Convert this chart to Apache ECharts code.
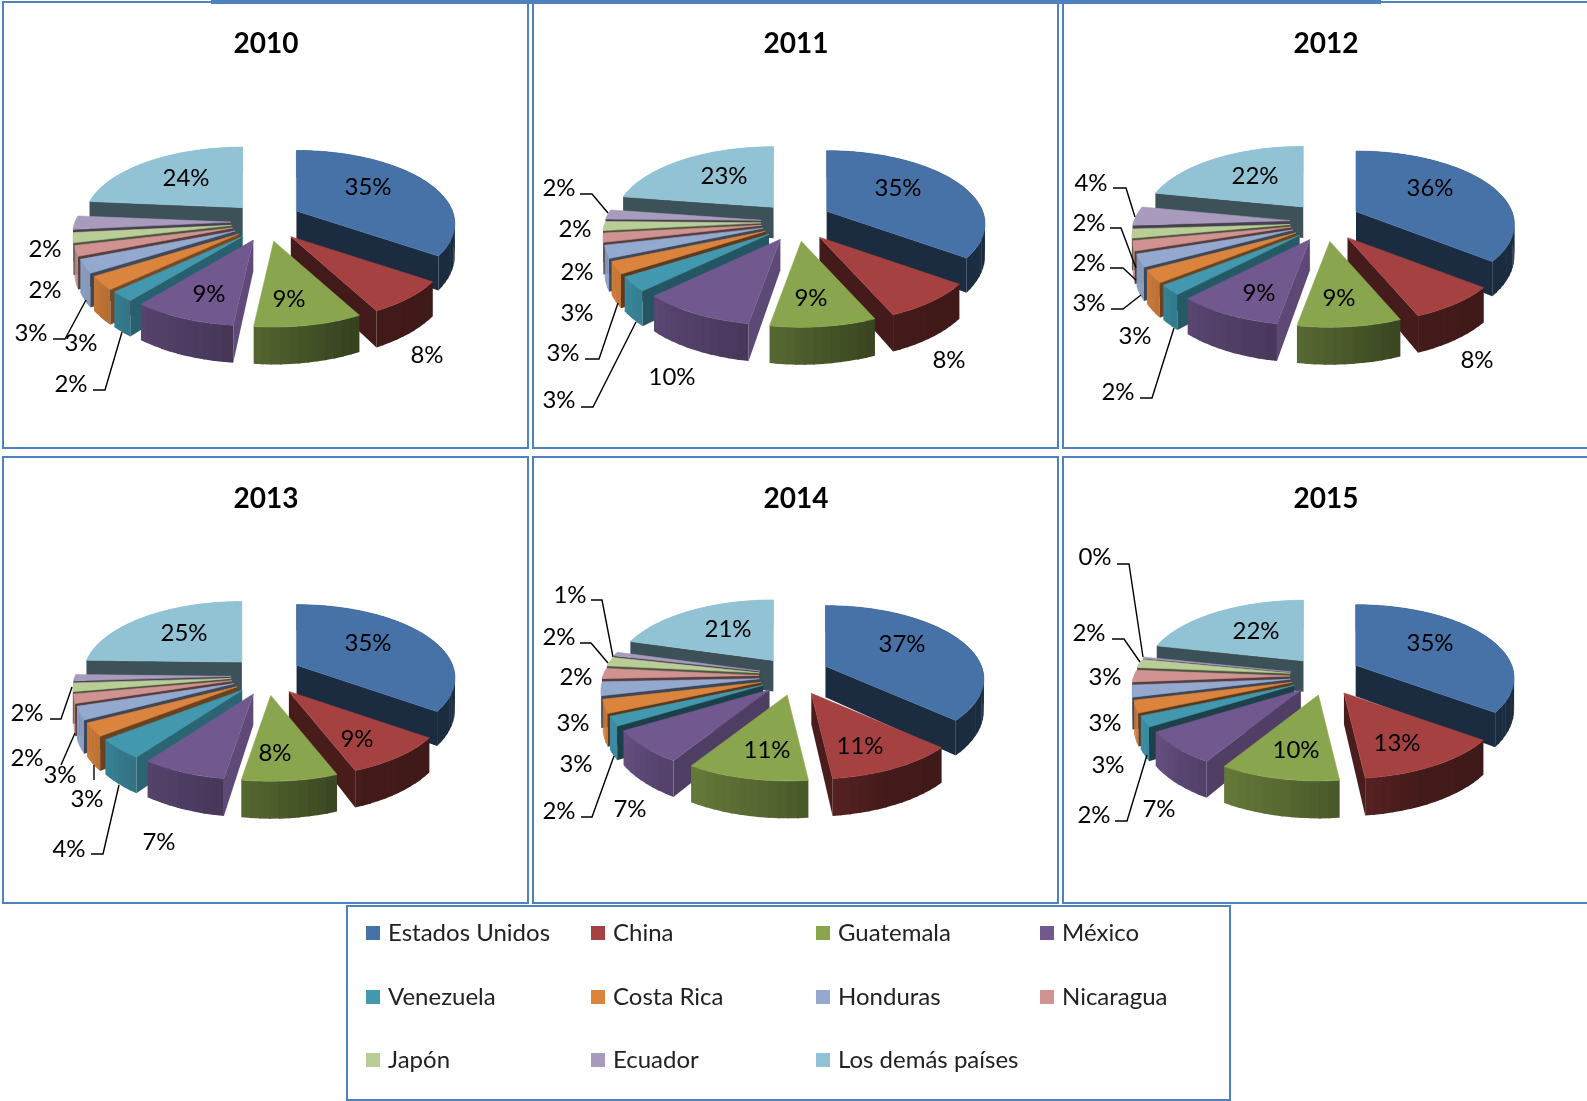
<!DOCTYPE html>
<html>
<head>
<meta charset="utf-8">
<title>Exportaciones por destino 2010-2015</title>
<script src="https://cdn.jsdelivr.net/npm/echarts@6/dist/echarts.min.js"></script>
<style>
html, body { margin: 0; padding: 0; background: #fff; }
#chart { width: 1587px; height: 1101px; }
</style>
</head>
<body>
<div id="chart"></div>
<script>
const years = ['2010', '2011', '2012', '2013', '2014', '2015']
const countries = ['Estados Unidos', 'China', 'Guatemala', 'México', 'Venezuela', 'Costa Rica', 'Honduras', 'Nicaragua', 'Japón', 'Ecuador', 'Los demás países']

// porcentajes estimados del grafico, mismo orden que countries
const values2010 = [34.7, 7.6, 9.4, 9.0, 2.2, 3.0, 3.0, 2.3, 2.2, 3.0, 23.6]
const values2011 = [35.1, 8.4, 9.2, 9.9, 3.2, 2.7, 2.8, 2.0, 2.0, 2.1, 22.6]
const values2012 = [35.8, 8.0, 9.0, 9.2, 2.2, 2.8, 2.8, 2.2, 2.0, 4.2, 21.8]
const values2013 = [35.0, 9.2, 8.3, 7.4, 4.4, 2.9, 2.9, 2.0, 1.9, 1.4, 24.6]
const values2014 = [36.8, 11.4, 10.6, 7.4, 2.1, 3.0, 3.0, 2.3, 2.0, 0.9, 20.5]
const values2015 = [35.2, 13.0, 10.4, 7.4, 2.4, 2.7, 2.6, 2.6, 1.9, 0.3, 21.5]
const yearValues = [values2010, values2011, values2012, values2013, values2014, values2015]

const colors = ['#4672A8', '#A54140', '#89A54E', '#71588F', '#4198AF', '#DB843D', '#93A9CF', '#D19392', '#B9CD96', '#A99BBD', '#92C3D5']

// centro de cada pastel y de cada titulo
const pieCenters = [[267, 222], [797, 222], [1326, 222], [267, 676], [795, 676], [1326, 676]]
const titleCenters = [[266, 44], [796, 44], [1326, 44], [266, 499], [796, 499], [1326, 499]]

// posicion de las etiquetas, null = sin etiqueta
const labels2010 = [[368, 187], [427, 355], [289, 299], [209, 294], [71, 384], [81, 343], [31, 333], [45, 290], [45, 249], null, [186, 178]]
const labels2011 = [[898, 188], [949, 360], [811, 298], [672, 377], [559, 400], [563, 353], [577, 313], [577, 272], [575, 229], [559, 188], [724, 176]]
const labels2012 = [[1430, 188], [1477, 360], [1339, 298], [1259, 293], [1118, 392], [1135, 336], [1089, 303], [1089, 263], [1089, 223], [1091, 183], [1255, 176]]
const labels2013 = [[368, 643], [357, 739], [275, 753], [159, 842], [69, 849], [87, 799], [60, 775], [27, 758], [27, 713], null, [184, 633]]
const labels2014 = [[902, 644], [860, 746], [767, 750], [630, 809], [559, 811], [576, 764], [573, 723], [576, 677], [559, 637], [570, 595], [728, 629]]
const labels2015 = [[1430, 643], [1397, 743], [1296, 750], [1159, 809], [1094, 815], [1108, 765], [1105, 723], [1105, 677], [1089, 633], [1095, 557], [1256, 631]]
const yearLabels = [labels2010, labels2011, labels2012, labels2013, labels2014, labels2015]

// lineas guia de las etiquetas de afuera
const leaders = [
  [[[93, 390], [105, 390], [122, 332]], [[53, 339], [65, 339], [86, 300]]],
  [[[581, 407], [593, 407], [636, 322]], [[585, 359], [599, 359], [618, 303]], [[580, 194], [592, 194], [608, 213]]],
  [[[1140, 398], [1152, 398], [1174, 328]], [[1111, 309], [1123, 309], [1141, 295]], [[1110, 268], [1123, 268], [1136, 280]], [[1110, 228], [1121, 228], [1136, 268]], [[1113, 188], [1126, 188], [1135, 217]]],
  [[[91, 854], [103, 854], [119, 785]], [[94, 780], [94, 765]], [[61, 765], [75, 733]], [[50, 719], [61, 719], [72, 687]]],
  [[[581, 817], [592, 817], [614, 756]], [[580, 643], [591, 643], [608, 663]], [[591, 600], [602, 600], [613, 657]]],
  [[[1115, 821], [1127, 821], [1147, 755]], [[1112, 639], [1124, 639], [1140, 662]], [[1117, 564], [1129, 564], [1143, 657]]]
]

// marcos [x, y, ancho, alto]
const boxes = [[3, 2, 525, 446], [533, 2, 525, 446], [1063, 2, 530, 446], [3, 457, 525, 446], [533, 457, 525, 446], [1063, 457, 530, 446], [347, 906, 883, 194]]

const legendPos = [[366, 933], [591, 933], [816, 933], [1040, 933], [366, 997], [591, 997], [816, 997], [1040, 997], [366, 1060], [591, 1060], [816, 1060]]

// geometria del pastel 3D
const rx = 156
const ry = 71
const persp = 0.173
const depth = 31
const explodeX = 36
const explodeY = 19.5
// la primera rebanada queda un poco corrida en el original
const firstSliceNudge = [-2.5, -2]

const rimStops = [[90, 0.38], [120, 0.38], [155, 0.4], [187, 0.62], [220, 0.78], [240, 0.92], [300, 0.95], [360, 0.95]]
const startStops = [[180, 0.84], [187, 0.84], [212, 0.7], [220, 0.62], [238, 0.42], [360, 0.4]]

function stopShade(stops, deg) {
  if (deg <= stops[0][0]) return stops[0][1]
  for (let i = 1; i < stops.length; i++) {
    if (deg <= stops[i][0]) {
      return echarts.number.linearMap(deg, [stops[i - 1][0], stops[i][0]], [stops[i - 1][1], stops[i][1]])
    }
  }
  return stops[stops.length - 1][1]
}

function shade(color, f) {
  const rgb = echarts.color.parse(color)
  return 'rgb(' + Math.round(rgb[0] * f) + ',' + Math.round(rgb[1] * f) + ',' + Math.round(rgb[2] * f) + ')'
}

function rimPoint(apex, deg, low) {
  const t = deg * Math.PI / 180
  const c = -Math.cos(t)
  const f = 1 / (1 - persp * c)
  return [apex[0] + rx * Math.sin(t) * f, apex[1] + ry * c * f + (low ? depth * f : 0)]
}

function fillShape(points, color) {
  return {
    type: 'polygon',
    z2: 1,
    shape: { points: points },
    style: { fill: color }
  }
}

function sliceAngles(values) {
  const total = values.reduce((a, b) => a + b, 0)
  let acc = 0
  return values.map((v) => {
    const from = echarts.number.linearMap(acc, [0, total], [0, 360])
    acc += v
    return [from, echarts.number.linearMap(acc, [0, total], [0, 360])]
  })
}

function makeRenderItem(yearIdx) {
  const values = yearValues[yearIdx]
  const angles = sliceAngles(values)
  const center = pieCenters[yearIdx]
  return function (params, api) {
    const idx = api.value(0)
    const value = api.value(1)
    const [from, to] = angles[idx]
    const mid = (from + to) / 2 * Math.PI / 180
    const apex = [center[0] + explodeX * Math.sin(mid), center[1] - explodeY * Math.cos(mid)]
    if (idx === 0) {
      apex[0] += firstSliceNudge[0]
      apex[1] += firstSliceNudge[1]
    }
    const apexLow = [apex[0], apex[1] + depth]
    const color = colors[idx]
    const children = []

    // pared curva por tramos, el sombreado cambia con el angulo
    // cada tramo pisa un poco el siguiente para que no queden rayas
    const steps = Math.max(1, Math.ceil((to - from) / 3))
    for (let s = steps - 1; s >= 0; s--) {
      const a = from + (to - from) * s / steps
      const b = from + (to - from) * (s + 1) / steps
      const bOver = Math.min(to, b + 0.5)
      children.push(fillShape([
        rimPoint(apex, a), rimPoint(apex, bOver), rimPoint(apex, bOver, true), rimPoint(apex, a, true)
      ], shade(color, stopShade(rimStops, (a + b) / 2))))
    }

    // caras de corte visibles
    if (Math.sin(from * Math.PI / 180) < 0) {
      children.push(fillShape([apex, rimPoint(apex, from), rimPoint(apex, from, true), apexLow], shade(color, stopShade(startStops, from))))
    }
    if (Math.sin(to * Math.PI / 180) > 0.001) {
      children.push(fillShape([apex, rimPoint(apex, to), rimPoint(apex, to, true), apexLow], shade(color, Math.min(0.45, stopShade(rimStops, to)))))
    }

    // cara superior
    const top = [apex]
    const topSteps = Math.max(2, Math.ceil((to - from) / 2))
    for (let s = 0; s <= topSteps; s++) {
      top.push(rimPoint(apex, from + (to - from) * s / topSteps))
    }
    children.push({
      type: 'polygon',
      z2: 1,
      shape: { points: top },
      style: { fill: color, stroke: color, lineWidth: 0.6 }
    })

    const pos = yearLabels[yearIdx][idx]
    if (pos) {
      children.push({
        type: 'text',
        z2: 100,
        style: {
          x: pos[0],
          y: pos[1],
          text: Math.round(value) + '%',
          fill: '#000',
          font: '24px Lato',
          align: 'center',
          verticalAlign: 'middle'
        }
      })
    }
    return { type: 'group', children: children }
  }
}

// de atras hacia adelante para que tape bien
function paintOrder(values) {
  const angles = sliceAngles(values)
  return values
    .map((v, i) => [i, v])
    .sort((a, b) => {
      const ma = (angles[a[0]][0] + angles[a[0]][1]) / 2 * Math.PI / 180
      const mb = (angles[b[0]][0] + angles[b[0]][1]) / 2 * Math.PI / 180
      return -Math.cos(ma) + Math.cos(mb)
    })
}

const series = years.map((y, i) => ({
  type: 'custom',
  name: y,
  coordinateSystem: 'none',
  silent: true,
  animation: false,
  data: paintOrder(yearValues[i]),
  renderItem: makeRenderItem(i)
}))

// series vacias solo para la leyenda
countries.forEach((name, i) => {
  series.push({
    type: 'custom',
    name: name,
    coordinateSystem: 'none',
    itemStyle: { color: colors[i] },
    data: [],
    renderItem: () => null
  })
})

const legends = countries.map((name, i) => ({
  left: legendPos[i][0],
  top: legendPos[i][1] - 14,
  padding: 0,
  itemWidth: 14,
  itemHeight: 14,
  icon: 'rect',
  selectedMode: false,
  textStyle: { fontFamily: 'Lato', fontSize: 24, color: '#222', lineHeight: 28, padding: [0, 0, 0, 3] },
  data: [{ name: name, itemStyle: { color: colors[i] } }]
}))

const titles = years.map((y, i) => ({
  text: y,
  left: titleCenters[i][0],
  top: titleCenters[i][1] - 17,
  padding: 0,
  textAlign: 'center',
  textStyle: { fontFamily: 'Lato', fontSize: 28, fontWeight: 'bold', color: '#000', lineHeight: 34 }
}))

const graphics = boxes.map((b) => ({
  type: 'rect',
  silent: true,
  z: -1,
  shape: { x: b[0], y: b[1], width: b[2], height: b[3] },
  style: { fill: 'none', stroke: '#4F81BD', lineWidth: 2 }
}))
graphics.push({
  type: 'rect',
  silent: true,
  z: -1,
  shape: { x: 211, y: 0, width: 1170, height: 4 },
  style: { fill: '#4F81BD' }
})
leaders.forEach((list) => {
  list.forEach((pts) => {
    graphics.push({
      type: 'polyline',
      silent: true,
      z: 10,
      shape: { points: pts },
      style: { fill: 'none', stroke: '#000', lineWidth: 1.4 }
    })
  })
})

const myChart = echarts.init(document.getElementById('chart'))
myChart.setOption({
  animation: false,
  backgroundColor: '#fff',
  title: titles,
  legend: legends,
  graphic: graphics,
  series: series
})
</script>
</body>
</html>
